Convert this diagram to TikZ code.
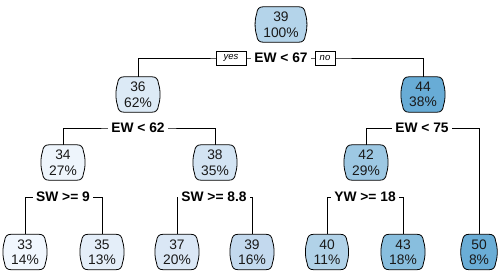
\documentclass[tikz,border=0pt]{standalone}
\usepackage{fontspec}
\setmainfont{Liberation Sans}
\usetikzlibrary{calc,backgrounds}
\definecolor{cR}{HTML}{B4D4EA}
\definecolor{cA}{HTML}{DCEAF6}
\definecolor{cB}{HTML}{68ACD6}
\definecolor{cC}{HTML}{EEF5FC}
\definecolor{cD}{HTML}{D3E4F3}
\definecolor{cE}{HTML}{9DC8E3}
\definecolor{cF}{HTML}{F1F7FE}
\definecolor{cG}{HTML}{E4EEF9}
\definecolor{cH}{HTML}{DAE7F5}
\definecolor{cI}{HTML}{C3D9EE}
\definecolor{cJ}{HTML}{B1D2E8}
\definecolor{cK}{HTML}{88BEDE}
\definecolor{cM}{HTML}{6AADD6}
\tikzset{
  tbox/.style={align=center, inner xsep=6pt, inner ysep=0pt, minimum height=35pt,
    font=\fontsize{13.8}{15.5}\selectfont, text=black!90},
  splitlab/.style={fill=white, inner xsep=3pt, inner ysep=1pt,
    font=\fontsize{13.8}{15}\selectfont\bfseries},
  yesno/.style={fill=white, draw=black, line width=0.6pt, inner xsep=3pt, inner ysep=1.5pt,
    minimum width=30pt, minimum height=14pt, font=\fontsize{9.5}{11}\selectfont\itshape},
  conn/.style={draw=black, line width=0.8pt},
  boxline/.style={draw=black, line width=0.8pt}
}
\newcommand\barrel[2]{%
  \path[boxline,fill=#2] let \p1=(#1.north west), \p2=(#1.south east) in
   ({\x1+6pt},\y1) -- ({\x2-6pt},\y1)
   .. controls ({\x2-2pt},\y1) and (\x2,{\y1-2pt}) .. ({\x2+0.5pt},{\y1-7pt})
   .. controls ({\x2+2.6pt},{\y1-13pt}) and ({\x2+2.6pt},{\y2+13pt}) .. ({\x2+0.5pt},{\y2+7pt})
   .. controls (\x2,{\y2+2pt}) and ({\x2-2pt},\y2) .. ({\x2-6pt},\y2)
   -- ({\x1+6pt},\y2)
   .. controls ({\x1+2pt},\y2) and (\x1,{\y2+2pt}) .. ({\x1-0.5pt},{\y2+7pt})
   .. controls ({\x1-2.6pt},{\y2+13pt}) and ({\x1-2.6pt},{\y1-13pt}) .. ({\x1-0.5pt},{\y1-7pt})
   .. controls (\x1,{\y1-2pt}) and ({\x1+2pt},\y1) .. cycle;}
\begin{document}
\begin{tikzpicture}[x=1pt,y=-1pt]
\useasboundingbox (0,0) rectangle (501,279);
% tree nodes
\node[tbox] (r) at (281,24.5) {39\\100\%};
\node[tbox] (a) at (138,94.5) {36\\62\%};
\node[tbox] (b) at (423,94.5) {44\\38\%};
\node[tbox] (c) at (63,162.5) {34\\27\%};
\node[tbox] (d) at (215,162.5) {38\\35\%};
\node[tbox] (e) at (366,162.5) {42\\29\%};
\node[tbox] (f) at (25,252) {33\\14\%};
\node[tbox] (g) at (102,252) {35\\13\%};
\node[tbox] (h) at (177,252) {37\\20\%};
\node[tbox] (i) at (252,252) {39\\16\%};
\node[tbox] (j) at (327,252) {40\\11\%};
\node[tbox] (k) at (403,252) {43\\18\%};
\node[tbox] (m) at (479,252) {50\\8\%};
% split labels
\node[splitlab] (l1) at (281,58) {EW < 67};
\node[splitlab] (l2) at (138,128) {EW < 62};
\node[splitlab] (l3) at (422,128) {EW < 75};
\node[splitlab] (l4) at (63,197) {SW >= 9};
\node[splitlab] (l5) at (214,197) {SW >= 8.8};
\node[splitlab] (l6) at (365,197) {YW >= 18};
\node[yesno] (yes) at (231,58) {yes};
\node[yesno, minimum width=20pt] (no) at (325,58) {no};
\begin{pgfonlayer}{background}
\draw[conn] (a.north) |- (l1.center) -| (b.north);
\draw[conn] (c.north) |- (l2.center) -| (d.north);
\draw[conn] (e.north) |- (l3.center) -| (m.north);
\draw[conn] (f.north) |- (l4.center) -| (g.north);
\draw[conn] (h.north) |- (l5.center) -| (i.north);
\draw[conn] (j.north) |- (l6.center) -| (k.north);
\barrel{r}{cR}
\barrel{a}{cA}
\barrel{b}{cB}
\barrel{c}{cC}
\barrel{d}{cD}
\barrel{e}{cE}
\barrel{f}{cF}
\barrel{g}{cG}
\barrel{h}{cH}
\barrel{i}{cI}
\barrel{j}{cJ}
\barrel{k}{cK}
\barrel{m}{cM}
\end{pgfonlayer}
\end{tikzpicture}
\end{document}
